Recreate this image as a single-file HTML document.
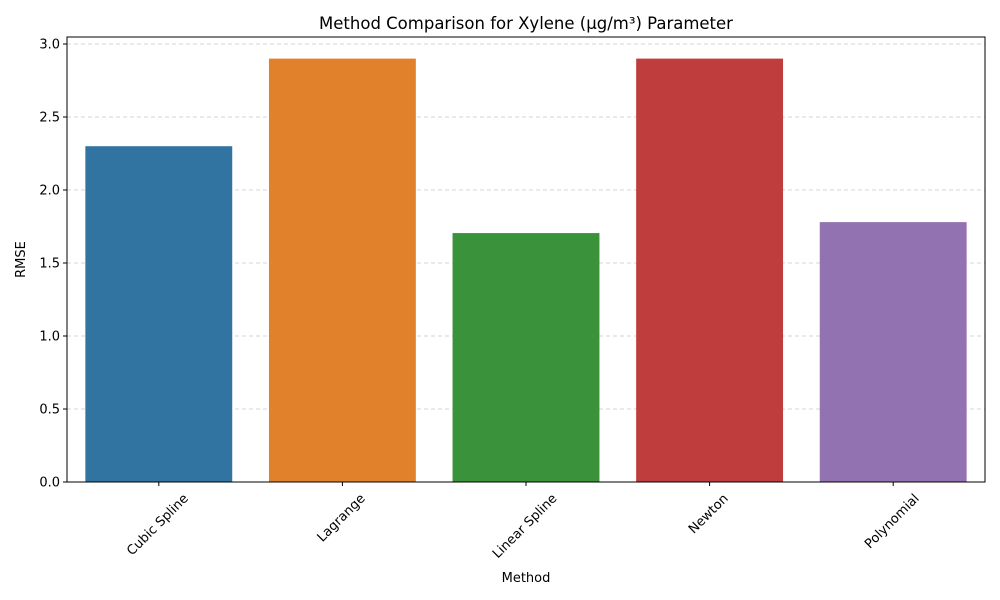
<!DOCTYPE html>
<html><head><meta charset="utf-8"><style>body{margin:0;background:#fff}svg{display:block;font-family:"DejaVu Sans","Liberation Sans",sans-serif}</style></head>
<body>
<svg id="chart" width="1000" height="600" xmlns="http://www.w3.org/2000/svg"></svg>
<script>
const categories = ["Cubic Spline","Lagrange","Linear Spline","Newton","Polynomial"];
const values = [2.30, 2.90, 1.705, 2.90, 1.78];
const colors = ["#3274a1","#e1812c","#3a923a","#c03d3e","#9372b2"];
const yTicks = [0,0.5,1.0,1.5,2.0,2.5,3.0];
const yTickLabels = ["0.0","0.5","1.0","1.5","2.0","2.5","3.0"];
const svg = document.getElementById('chart');
const NS = 'http://www.w3.org/2000/svg';
const L=67,R=985,T=37,B=482;
const y = v => B - v*146;
const band = (R-L)/categories.length;
const x = i => L + band*i + band/2;
function mk(tag, attrs, text){const e=document.createElementNS(NS,tag);for(const k in attrs)e.setAttribute(k,attrs[k]);if(text!==undefined)e.textContent=text;svg.appendChild(e);return e;}
yTicks.forEach((t,i)=>{
  const g=mk('line',{x1:L,x2:R,y1:y(t),y2:y(t),stroke:'#b0b0b0','stroke-width':0.8,'stroke-dasharray':'4,3',opacity:0.7});
  
  
  const tk=mk('line',{x1:L-4,x2:L,y1:y(t),y2:y(t),stroke:'#000'});
  
  
  const lb=mk('text',{x:L-7,y:y(t)+4.5,'text-anchor':'end','font-size':13},yTickLabels[i]);
  
  
});
categories.forEach((c,i)=>{
  const w=band*0.8;
  const r=mk('rect',{x:x(i)-w/2,y:y(values[i]),width:w,height:B-y(values[i]),fill:colors[i]});
  
  
  const tk=mk('line',{x1:x(i),x2:x(i),y1:B,y2:B+4,stroke:'#000'});
  
  
  const lb=mk('text',{x:x(i),y:0,'text-anchor':'middle','font-size':13},c);
  
  
  const tw=lb.getComputedTextLength();
  const bh=(tw+14)*0.7071;
  const cy=B+9+bh/2;
  lb.setAttribute('y',cy+4.5);
  lb.setAttribute('transform',`rotate(-45 ${x(i)-1.5} ${cy})`);
  lb.setAttribute('x',x(i)-1.5);
});
const fr=mk('rect',{x:L,y:T,width:R-L,height:B-T,fill:'none',stroke:'#000','stroke-width':1});


const tt=mk('text',{x:(L+R)/2,y:29,'text-anchor':'middle','font-size':16.5},'Method Comparison for Xylene (µg/m³) Parameter');


const xt=mk('text',{x:(L+R)/2,y:582,'text-anchor':'middle','font-size':13},'Method');


const yt=mk('text',{x:25,y:(T+B)/2,'text-anchor':'middle','font-size':13,transform:`rotate(-90 25 ${(T+B)/2})`},'RMSE');


</script>
</body></html>
